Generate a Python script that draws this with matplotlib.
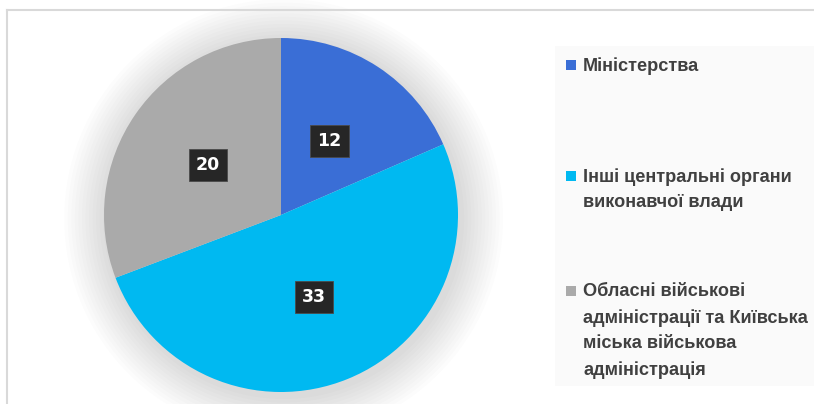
import matplotlib.pyplot as plt
from matplotlib.lines import Line2D
from matplotlib.patches import Rectangle, Circle

categories = ['Міністерства',
              'Інші центральні органи\nвиконавчої влади',
              'Обласні військові\nадміністрації та Київська\nміська військова\nадміністрація']
values = [12, 33, 20]
colors = ['#3A6ED6', '#00B9F1', '#AAAAAA']

fig = plt.figure(figsize=(8.14, 4.04), dpi=100)
W, H = 814, 404

# outer chart frame (top + left visible)
fig.add_artist(Line2D([6.5 / W, 6.5 / W], [0, 1 - 9.5 / H], transform=fig.transFigure,
                      color='#D9D9D9', lw=1.5))
fig.add_artist(Line2D([6.5 / W, 1], [1 - 9.5 / H, 1 - 9.5 / H], transform=fig.transFigure,
                      color='#D9D9D9', lw=1.5))

# pie axes: centre (281, 215) px, radius 177 px
cx, cy, r = 281, 215, 177
ax = fig.add_axes([(cx - r) / W, (H - cy - r) / H, 2 * r / W, 2 * r / H])

# soft shadow around the pie
for k in range(12):
    ax.add_patch(Circle((0.015, -0.02), 1.0 + 0.02 * (k + 1), color='black',
                        alpha=0.011, lw=0, zorder=0, clip_on=False))

wedges, texts, autotexts = ax.pie(
    values, colors=colors, startangle=90, counterclock=False, radius=1,
    autopct=lambda p: '%d' % round(p * sum(values) / 100.0),
    pctdistance=0.5, wedgeprops=dict(linewidth=0))
for t in autotexts:
    t.set_color('white')
    t.set_fontweight('bold')
    t.set_fontsize(12.5)
    t.set_fontfamily('DejaVu Sans')
    t.set_bbox(dict(boxstyle='square,pad=0.4', facecolor='#262626', edgecolor='#4a4a4a',
                    linewidth=0.6))
    t.set_zorder(5)
ax.set_xlim(-1, 1)
ax.set_ylim(-1, 1)
ax.set_aspect('equal')
ax.axis('off')

# legend panel
fig.add_artist(Rectangle((555 / W, 1 - 386 / H), (W - 555) / W, (386 - 46) / H,
                         transform=fig.transFigure, facecolor='#FAFAFA', edgecolor='none',
                         zorder=0))
entry_mid = [65, 176, 291]
for y, lab, col in zip(entry_mid, categories, colors):
    fig.add_artist(Rectangle((566 / W, 1 - (y + 5) / H), 10 / W, 10 / H,
                             transform=fig.transFigure, facecolor=col, edgecolor='none'))
    fig.text(583 / W, 1 - (y - 8) / H, lab, ha='left', va='top', fontsize=13.1,
             fontweight='bold', color='#404040', family='Liberation Sans',
             linespacing=1.66)

fig.savefig('out.png', dpi=100, facecolor='white')
